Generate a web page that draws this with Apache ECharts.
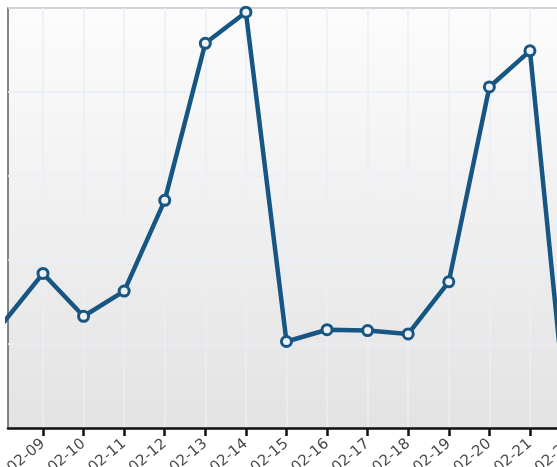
<!DOCTYPE html>
<html>
<head>
<meta charset="utf-8">
<script src="https://cdn.jsdelivr.net/npm/echarts@6/dist/echarts.min.js"></script>
<style>
html,body{margin:0;padding:0;overflow:hidden;background:#fff;width:557px;height:467px;}
#c{position:absolute;left:0;top:0;width:620px;height:467px;}
</style>
</head>
<body>
<div id="c"></div>
<script>
var dates = ['02-08','02-09','02-10','02-11','02-12','02-13','02-14','02-15','02-16','02-17','02-18','02-19','02-20','02-21','02-22'];
var values = [124, 184, 133, 163, 271, 458, 495, 103, 117, 116, 112, 174, 406, 449, -35];
var yTicks = [0, 100, 200, 300, 400, 500];

var tickIdx = [];
for (var i = 1; i < dates.length; i++) tickIdx.push(i);
var points = values.map(function (v, i) { return [i, v]; });

var chart = echarts.init(document.getElementById('c'));
chart.setOption({
  animation: false,
  grid: {
    left: 8, top: 8, right: 8.9, bottom: 39,
    outerBoundsMode: 'none',
    containLabel: false,
    show: true,
    borderColor: '#5e5e5e',
    borderWidth: 1.5,
    backgroundColor: new echarts.graphic.LinearGradient(0, 0, 0, 1, [
      {offset: 0, color: '#fcfcfd'},
      {offset: 1, color: '#e3e3e3'}
    ])
  },
  xAxis: {
    type: 'value',
    min: 0.1375,
    max: 15,
    axisLine: {show: true, onZero: false, lineStyle: {color: '#111', width: 2.5}},
    axisTick: {show: true, customValues: tickIdx, length: 8, lineStyle: {color: '#111', width: 2.5}},
    axisLabel: {
      customValues: tickIdx,
      rotate: 40,
      margin: 14,
      fontSize: 15,
      fontFamily: 'DejaVu Sans',
      color: '#4a4a4a',
      formatter: function (v) { return dates[Math.round(v)]; }
    },
    splitLine: {show: true, lineStyle: {color: '#e8eef8', width: 1.5}}
  },
  yAxis: {
    type: 'value',
    min: yTicks[0],
    max: yTicks[yTicks.length - 1],
    interval: 100,
    axisLine: {show: false},
    axisTick: {show: false},
    axisLabel: {show: false},
    splitLine: {show: true, lineStyle: {color: '#e8eef8', width: 1.5}}
  },
  series: [{
    type: 'line',
    data: points,
    clip: true,
    symbol: 'circle',
    symbolSize: 10,
    lineStyle: {color: '#175683', width: 4.5},
    itemStyle: {color: '#eef2f6', borderColor: '#175683', borderWidth: 3}
  }]
});
</script>
</body>
</html>
